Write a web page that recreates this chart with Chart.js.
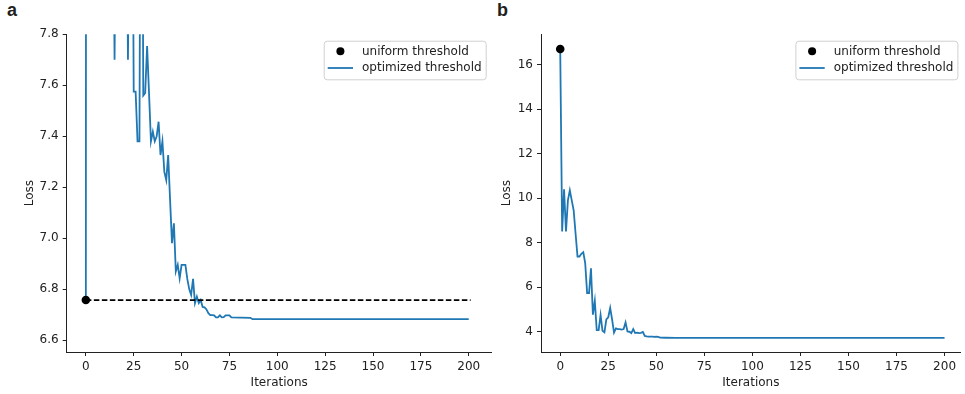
<!DOCTYPE html>
<html>
<head>
<meta charset="utf-8">
<script src="https://cdn.jsdelivr.net/npm/chart.js@4"></script>
<style>
  body { margin: 0; background: #fff; width: 965px; height: 394px; position: relative; overflow: hidden; }
  canvas { position: absolute; top: 0; }
  .panel { position: absolute; top: 0; font: bold 18px "Liberation Sans", Arial, sans-serif; color: #231f20; }
</style>
</head>
<body>
<div class="panel" style="left:7px">a</div>
<div class="panel" style="left:497px">b</div>
<canvas id="chartA" width="496" height="394" style="left:0"></canvas>
<canvas id="chartB" width="469" height="394" style="left:496px"></canvas>
<script>
// panel a: loss per iteration (values above 7.8 run off the top of the plot)
var iterA = [0, 1, 2, 3, 4, 5, 6, 7, 8, 9, 10, 11, 12, 13, 14, 15, 16, 17, 18, 19, 20,
  21, 22, 23, 24, 25, 26, 27, 28, 29, 30, 31, 32, 33, 34, 35, 36, 37, 38, 39, 40,
  41, 42, 43, 44, 45, 46, 47, 48, 49, 50, 51, 52, 53, 54, 55, 56, 57, 58, 59, 60,
  61, 62, 63, 64, 65, 66, 67, 68, 69, 70, 71, 72, 73, 74, 75, 76, 86, 87, 200]
var lossA = [6.757, 25, 9.1, 8.9, 8.6, 8.7, 8.4, 8.5, 8.3, 8.2, 8.4, 8.2, 8.1, 8.3, 8.6, 7.70, 8.6, 8.4, 8.2, 8.3, 8.4,
  8.6, 7.70, 8.6, 9.0, 7.575, 7.575, 7.38, 7.38, 9.5, 7.56, 7.57, 7.754, 7.57, 7.38, 7.418, 7.38, 7.40, 7.457, 7.326, 7.38,
  7.26, 7.228, 7.326, 7.15, 6.98, 7.058, 6.869, 6.895, 6.842, 6.895, 6.895, 6.895, 6.84, 6.80, 6.777, 6.84, 6.745, 6.77, 6.745, 6.757,
  6.73, 6.728, 6.72, 6.705, 6.698, 6.698, 6.697, 6.689, 6.689, 6.697, 6.689, 6.69, 6.697, 6.697, 6.697, 6.689, 6.687, 6.682, 6.682]
var uniformA = 6.757
var uniformEndA = 201

// panel b
var iterB = [0, 1, 2, 3, 4, 5, 6, 7, 8, 9, 10, 11, 12, 13, 14, 15, 16, 17, 18, 19, 20,
  21, 22, 23, 24, 25, 26, 27, 28, 29, 30, 31, 32, 33, 34, 35, 36, 37, 38, 39, 40,
  41, 42, 43, 44, 45, 46, 47, 48, 49, 50, 51, 52, 55, 60, 200]
var lossB = [16.7, 8.5, 10.4, 8.5, 9.9, 10.35, 9.9, 9.45, 8.4, 7.38, 7.38, 7.5, 7.57, 7.08, 5.74, 5.74, 6.85, 4.77, 5.39, 4.07, 4.07,
  4.75, 4.04, 3.97, 4.55, 4.65, 5.07, 4.55, 3.96, 4.15, 4.12, 4.12, 4.1, 4.12, 4.42, 4.01, 4.0, 3.94, 4.12, 3.94, 3.96,
  3.94, 3.95, 3.99, 3.81, 3.79, 3.78, 3.78, 3.78, 3.77, 3.78, 3.77, 3.74, 3.73, 3.72, 3.72]
var uniformB = 16.7

var xTicks = [0, 25, 50, 75, 100, 125, 150, 175, 200]
var yTicksA = [6.6, 6.8, 7.0, 7.2, 7.4, 7.6, 7.8]
var yTicksB = [4, 6, 8, 10, 12, 14, 16]

var BLUE = '#1f77b4'
var INK = '#222'

Chart.defaults.font.family = '"DejaVu Sans", sans-serif'
Chart.defaults.font.size = 12
Chart.defaults.color = INK

function toPoints(xs, ys) {
  return xs.map(function (x, i) { return { x: x, y: ys[i] } })
}

// matplotlib-style legend box drawn inside the plot area, upper right
var boxLegend = {
  id: 'boxLegend',
  afterDraw: function (chart, args, opts) {
    var ctx = chart.ctx
    var area = chart.chartArea
    var w = 162, h = 38.6
    var left = area.right - opts.right - w
    var top = area.top + 6.4
    ctx.save()
    ctx.beginPath()
    ctx.roundRect(left + 0.5, top + 0.5, w, h, 3)
    ctx.fillStyle = 'rgba(255,255,255,0.8)'
    ctx.fill()
    ctx.strokeStyle = '#d0d0d0'
    ctx.lineWidth = 1
    ctx.stroke()

    ctx.font = '12px "DejaVu Sans", sans-serif'
    ctx.fillStyle = INK
    ctx.textBaseline = 'middle'
    ctx.fillText('uniform threshold', left + 38.3, top + 11)
    ctx.fillText('optimized threshold', left + 38.3, top + 27.5)

    ctx.beginPath()
    ctx.arc(left + 16.7, top + 10.6, 4, 0, Math.PI * 2)
    ctx.fillStyle = '#000'
    ctx.fill()

    ctx.beginPath()
    ctx.moveTo(left + 4, top + 27.3)
    ctx.lineTo(left + 29.3, top + 27.3)
    ctx.strokeStyle = BLUE
    ctx.lineWidth = 1.8
    ctx.stroke()
    ctx.restore()
  }
}

function axisX(min, max) {
  return {
    type: 'linear', min: min, max: max,
    afterBuildTicks: function (s) { s.ticks = xTicks.map(function (v) { return { value: v } }) },
    afterFit: function (s) { s.height = 42 },
    ticks: { autoSkip: false, maxRotation: 0, padding: 4 },
    grid: { drawOnChartArea: false, drawTicks: true, tickLength: 4, tickColor: INK },
    border: { display: true, color: INK, width: 1 },
    title: { display: true, text: 'Iterations', padding: { top: 0, bottom: 4 } }
  }
}

function axisY(min, max, ticks, width, titlePad, fmt) {
  return {
    type: 'linear', min: min, max: max,
    afterBuildTicks: function (s) { s.ticks = ticks.map(function (v) { return { value: v } }) },
    afterFit: function (s) { s.width = width },
    ticks: { padding: 4, callback: fmt },
    grid: { drawOnChartArea: false, drawTicks: true, tickLength: 4, tickColor: INK },
    border: { display: true, color: INK, width: 1 },
    title: { display: true, text: 'Loss', padding: { top: titlePad, bottom: 0 } }
  }
}

function createCharts() {
  new Chart(document.getElementById('chartA'), {
    type: 'line',
    data: {
      datasets: [
        {
          label: 'uniform threshold',
          data: [{ x: 0, y: uniformA }],
          showLine: false, pointRadius: 4.3, pointBackgroundColor: '#000', pointBorderWidth: 0
        },
        {
          label: 'uniform level',
          data: [{ x: 0, y: uniformA }, { x: uniformEndA, y: uniformA }],
          borderColor: '#000', borderWidth: 1.8, borderDash: [5.5, 2.5], pointRadius: 0
        },
        {
          label: 'optimized threshold',
          data: toPoints(iterA, lossA),
          borderColor: BLUE, borderWidth: 1.8, pointRadius: 0, tension: 0, clip: 0
        }
      ]
    },
    options: {
      responsive: false,
      animation: false,
      devicePixelRatio: 1,
      layout: { padding: { left: 0, right: 2.7, top: 34.3, bottom: 0 } },
      scales: {
        x: axisX(-10, 212),
        y: axisY(6.553, 7.8, yTicksA, 66.7, 22.4, function (v) { return v.toFixed(1) })
      },
      plugins: { legend: { display: false }, tooltip: { enabled: false }, boxLegend: { right: 6 } }
    },
    plugins: [boxLegend]
  })

  new Chart(document.getElementById('chartB'), {
    type: 'line',
    data: {
      datasets: [
        {
          label: 'uniform threshold',
          data: [{ x: 0, y: uniformB }],
          showLine: false, pointRadius: 4.3, pointBackgroundColor: '#000', pointBorderWidth: 0
        },
        {
          label: 'optimized threshold',
          data: toPoints(iterB, lossB),
          borderColor: BLUE, borderWidth: 1.8, pointRadius: 0, tension: 0, clip: 0
        }
      ]
    },
    options: {
      responsive: false,
      animation: false,
      devicePixelRatio: 1,
      layout: { padding: { left: 0, right: 0, top: 34.3, bottom: 0 } },
      scales: {
        x: axisX(-10, 208.4),
        y: axisY(3.09, 17.36, yTicksB, 45, 3.8, function (v) { return v })
      },
      plugins: { legend: { display: false }, tooltip: { enabled: false }, boxLegend: { right: 3.3 } }
    },
    plugins: [boxLegend]
  })
}

window.onload = function () {
  createCharts()
}
</script>
</body>
</html>
